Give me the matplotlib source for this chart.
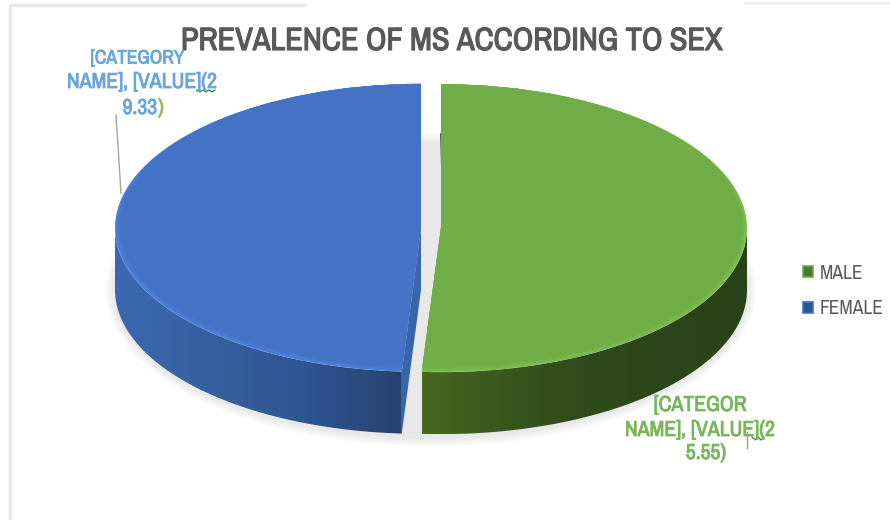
import numpy as np
import matplotlib
matplotlib.use("Agg")
import matplotlib.pyplot as plt
import matplotlib.patheffects as pe
from matplotlib.colors import LinearSegmentedColormap, to_rgb
from matplotlib.patches import Ellipse, Patch, PathPatch, Polygon
from matplotlib.path import Path

plt.rcParams["font.family"] = ["Archivo Narrow", "Liberation Sans", "DejaVu Sans"]

title = "PREVALENCE OF MS ACCORDING TO SEX"
categories = ["MALE", "FEMALE"]
# slice sizes as drawn in the picture (percent of the circle)
shares = [51, 49]
label_lines_female = ["[CATEGORY", "NAME], [VALUE](2", "9.33"]
label_lines_male = ["[CATEGOR", "NAME], [VALUE](2", "5.55)"]

top_colors = ["#70ad47", "#4472c4"]
rim_colors = ["#7dbb52", "#4a82da"]
legend_colors = ["#4c7a2c", "#2d5296"]
legend_edges = ["#70ad47", "#4472c4"]
grey = "#595959"

W, H = 890, 520
CX, CY = 431, 228
RX, RY = 306, 144
DEPTH = 62 / RY
GAP = 10 / RX

fig = plt.figure(figsize=(W / 100, H / 100), dpi=100)


def pixel_axes(zorder):
    a = fig.add_axes([0, 0, 1, 1], zorder=zorder)
    a.set_xlim(0, W)
    a.set_ylim(H, 0)
    a.axis("off")
    return a


def heavy(color, width):
    # the narrow font only comes in one weight, thicken it with a stroke
    return [pe.withStroke(linewidth=width, foreground=color)]


# background: frame lines and soft shadow
ax_bg = pixel_axes(0)
ax_bg.plot([10, 10, 305], [H, 5, 5], color="#e9e9e9", lw=2.5)
ax_bg.plot([745, W], [3, 3], color="#efefef", lw=2)
shadow_steps = np.linspace(1, 0, 7)
for s in shadow_steps:
    level = 0.91 + 0.09 * s
    ax_bg.add_patch(Ellipse((CX, 290), 2 * (318 + 9 * s), 2 * (149 + 9 * s),
                            color=(level, level, level), lw=0))

# pie axes: one data unit is the radius, squeezed in y for the tilt
ax = fig.add_axes([0, 0, 1, 1], zorder=1)


def draw_pie(shrink, colors, zorder):
    # a smaller pie moved up keeps the back edge and leaves a rim at the front
    wedges, _ = ax.pie(shares, explode=[GAP / (1 - shrink)] * 2, startangle=90, counterclock=False,
                       colors=colors, center=(0, shrink), radius=1 - shrink,
                       wedgeprops={"linewidth": 0, "zorder": zorder})
    return wedges


base = draw_pie(0, rim_colors, 3)
for shrink, mix in zip([0.006, 0.011, 0.016], [0.35, 0.7, 1.0]):
    step_colors = []
    for rim, top in zip(rim_colors, top_colors):
        r = np.array(to_rgb(rim))
        t = np.array(to_rgb(top))
        step_colors.append(tuple(r + (t - r) * mix))
    draw_pie(shrink, step_colors, 3 + mix)

# outer walls with a left to right shading
wall_cmaps = [
    LinearSegmentedColormap.from_list("male", ["#46691f", "#38571d", "#2f4b1b", "#2c451a", "#2a4219"]),
    LinearSegmentedColormap.from_list("female", ["#3b68b2", "#36609f", "#2f5592", "#27426f"]),
]
for wedge, cmap in zip(base, wall_cmaps):
    cx, cy = wedge.center
    t1 = max(wedge.theta1, -180)
    t2 = min(wedge.theta2, 0)
    angles = np.radians(np.linspace(t1, t2, 120))
    xs = cx + np.cos(angles)
    ys = cy + np.sin(angles)
    verts = np.vstack([np.column_stack([xs, ys]),
                       np.column_stack([xs[::-1], ys[::-1] - DEPTH])])
    clip = PathPatch(Path(np.vstack([verts, verts[:1]]), closed=True),
                     transform=ax.transData, fc="none", ec="none")
    ax.add_patch(clip)
    im = ax.imshow(np.linspace(0, 1, 256).reshape(1, -1), cmap=cmap, aspect="auto",
                   extent=(xs.min(), xs.max(), ys.min() - DEPTH, ys.max()), zorder=2)
    im.set_clip_path(clip)

# cut face of the female slice, seen through the gap
female = base[1]
cx, cy = female.center
edge = np.radians(female.theta2)
ex, ey = cx + np.cos(edge), cy + np.sin(edge)
ax.add_patch(Polygon([(cx, cy), (ex, ey), (ex, ey - DEPTH), (cx, cy - DEPTH)],
                     closed=True, fc="#3a64ab", ec="none", zorder=2.5))
# dark inner edge of the male slice
male = base[0]
ax.plot([male.center[0], male.center[0] + 0.006], [1 - 50 / RY, 1 - 120 / RY],
        color="#2b4319", lw=1.2, zorder=2.5)

ax.set_aspect("auto")
ax.set_xlim(-CX / RX, (W - CX) / RX)
ax.set_ylim((CY - H) / RY, CY / RY)

# texts on top
ax_top = pixel_axes(2)
ax_top.text(452, 41, title, ha="center", va="center", fontsize=23.2, color=grey,
            path_effects=heavy(grey, 0.9))

blue_label = "#6aa5dc"
green_label = "#7ab55c"
ax_top.text(137.5, 58, label_lines_female[0], ha="center", va="center", fontsize=14, color=blue_label,
            path_effects=heavy(blue_label, 0.6))
ax_top.text(142, 82, label_lines_female[1], ha="center", va="center", fontsize=15.6, color=blue_label,
            path_effects=heavy(blue_label, 0.6))
ax_top.text(157, 108, label_lines_female[2], ha="right", va="center", fontsize=15.6, color=blue_label,
            path_effects=heavy(blue_label, 0.6))
ax_top.text(158, 108, ")", ha="left", va="center", fontsize=15.6, color="#9dbb61",
            path_effects=heavy("#9dbb61", 0.6))
ax_top.plot([116, 121], [115, 193], color="#a6a6a6", lw=1)
ax_top.plot(np.arange(197, 218, 3), [90, 92] * 3 + [90], color="#2e8b2e", lw=0.9)

for text, x, y in zip(label_lines_male, [700, 700, 706], [405, 430, 453]):
    ax_top.text(x, y, text, ha="center", va="center", fontsize=15.6, color=green_label,
                path_effects=heavy(green_label, 0.6))
ax_top.plot([747, 747], [432, 448], color=green_label, lw=1)
ax_top.plot(np.arange(752, 767, 3), [437, 440, 437, 440, 437], color="#2e8b2e", lw=0.9)

handles = [Patch(facecolor=f, edgecolor=e, lw=1.2) for f, e in zip(legend_colors, legend_edges)]
ax_top.legend(handles, categories, loc="center left", bbox_to_anchor=(803 / W, 1 - 291 / H),
              bbox_transform=fig.transFigure, frameon=False, fontsize=14, labelcolor=grey,
              handlelength=0.5, handleheight=0.5, handletextpad=0.35, labelspacing=0.85,
              borderpad=0, borderaxespad=0)

fig.savefig("out.png", dpi=100)
